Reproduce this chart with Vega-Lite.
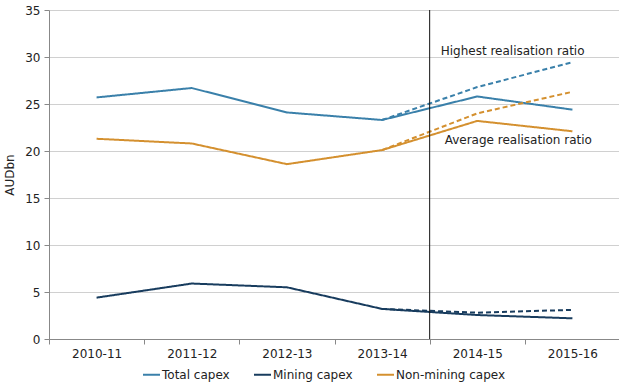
{
  "$schema": "https://vega.github.io/schema/vega-lite/v6.json",
  "width": 571,
  "height": 329,
  "autosize": {"type": "none"},
  "padding": {"left": 49, "top": 10, "right": 0, "bottom": 46},
  "background": "white",
  "config": {
    "font": "DejaVu Sans",
    "view": {"stroke": null},
    "axis": {"labelFont": "DejaVu Sans", "labelFontSize": 12, "labelColor": "#222", "titleFont": "DejaVu Sans", "titleFontWeight": "normal", "titleFontSize": 12, "titleColor": "#222"}
  },
  "datasets": {
    "lines": [
      {"year": "2010-11", "series": "Total capex", "scenario": "Average", "value": 25.7},
      {"year": "2011-12", "series": "Total capex", "scenario": "Average", "value": 26.7},
      {"year": "2012-13", "series": "Total capex", "scenario": "Average", "value": 24.1},
      {"year": "2013-14", "series": "Total capex", "scenario": "Average", "value": 23.3},
      {"year": "2014-15", "series": "Total capex", "scenario": "Average", "value": 25.8},
      {"year": "2015-16", "series": "Total capex", "scenario": "Average", "value": 24.4},
      {"year": "2013-14", "series": "Total capex", "scenario": "Highest", "value": 23.3},
      {"year": "2014-15", "series": "Total capex", "scenario": "Highest", "value": 26.8},
      {"year": "2015-16", "series": "Total capex", "scenario": "Highest", "value": 29.45},
      {"year": "2010-11", "series": "Mining capex", "scenario": "Average", "value": 4.4},
      {"year": "2011-12", "series": "Mining capex", "scenario": "Average", "value": 5.9},
      {"year": "2012-13", "series": "Mining capex", "scenario": "Average", "value": 5.5},
      {"year": "2013-14", "series": "Mining capex", "scenario": "Average", "value": 3.2},
      {"year": "2014-15", "series": "Mining capex", "scenario": "Average", "value": 2.55},
      {"year": "2015-16", "series": "Mining capex", "scenario": "Average", "value": 2.2},
      {"year": "2013-14", "series": "Mining capex", "scenario": "Highest", "value": 3.2},
      {"year": "2014-15", "series": "Mining capex", "scenario": "Highest", "value": 2.8},
      {"year": "2015-16", "series": "Mining capex", "scenario": "Highest", "value": 3.1},
      {"year": "2010-11", "series": "Non-mining capex", "scenario": "Average", "value": 21.3},
      {"year": "2011-12", "series": "Non-mining capex", "scenario": "Average", "value": 20.8},
      {"year": "2012-13", "series": "Non-mining capex", "scenario": "Average", "value": 18.6},
      {"year": "2013-14", "series": "Non-mining capex", "scenario": "Average", "value": 20.1},
      {"year": "2014-15", "series": "Non-mining capex", "scenario": "Average", "value": 23.2},
      {"year": "2015-16", "series": "Non-mining capex", "scenario": "Average", "value": 22.1},
      {"year": "2013-14", "series": "Non-mining capex", "scenario": "Highest", "value": 20.1},
      {"year": "2014-15", "series": "Non-mining capex", "scenario": "Highest", "value": 24.0},
      {"year": "2015-16", "series": "Non-mining capex", "scenario": "Highest", "value": 26.3}
    ],
    "divider": [{"year": "2014-15"}],
    "notes": [
      {"year": "2014-15", "value": 30.6, "label": "Highest realisation ratio", "shift": 11},
      {"year": "2014-15", "value": 21.2, "label": "Average realisation ratio", "shift": 15}
    ]
  },
  "layer": [
    {
      "data": {"name": "lines"},
      "mark": {"type": "line", "strokeWidth": 2},
      "encoding": {
        "x": {"field": "year", "type": "ordinal", "scale": {"type": "band", "paddingInner": 0, "paddingOuter": 0},
          "axis": {"title": null, "labelAngle": 0, "tickBand": "extent", "domainColor": "#888", "tickColor": "#888", "tickSize": 5, "labelPadding": 4, "grid": false}},
        "y": {"field": "value", "type": "quantitative", "scale": {"domain": [0, 35]},
          "axis": {"title": "AUDbn", "values": [0, 5, 10, 15, 20, 25, 30, 35], "gridColor": "#d0d0d0", "domainColor": "#888", "tickColor": "#888", "tickSize": 5, "labelPadding": 4, "titlePadding": 8}},
        "color": {"field": "series", "type": "nominal",
          "scale": {"domain": ["Total capex", "Mining capex", "Non-mining capex"], "range": ["#3a80aa", "#183c5e", "#d4902f"]},
          "legend": {"title": null, "orient": "none", "legendX": 93, "legendY": 355, "padding": 0, "direction": "horizontal", "symbolType": "stroke", "symbolStrokeWidth": 2, "symbolSize": 289, "labelFontSize": 12, "labelColor": "#222", "labelFont": "DejaVu Sans", "labelOffset": 1, "columnPadding": 20}},
        "strokeDash": {"field": "scenario", "type": "nominal", "scale": {"domain": ["Average", "Highest"], "range": [[1, 0], [5, 3]]}, "legend": null}
      }
    },
    {
      "data": {"name": "divider"},
      "mark": {"type": "rule", "color": "#111", "strokeWidth": 1},
      "encoding": {
        "x": {"field": "year", "type": "ordinal", "bandPosition": 0}
      }
    },
    {
      "data": {"name": "notes"},
      "mark": {"type": "text", "align": "left", "baseline": "middle", "fontSize": 12, "color": "#222", "font": "DejaVu Sans"},
      "encoding": {
        "x": {"field": "year", "type": "ordinal"},
        "y": {"field": "value", "type": "quantitative"},
        "xOffset": {"field": "shift", "type": "quantitative", "scale": null},
        "text": {"field": "label"}
      }
    }
  ]
}
